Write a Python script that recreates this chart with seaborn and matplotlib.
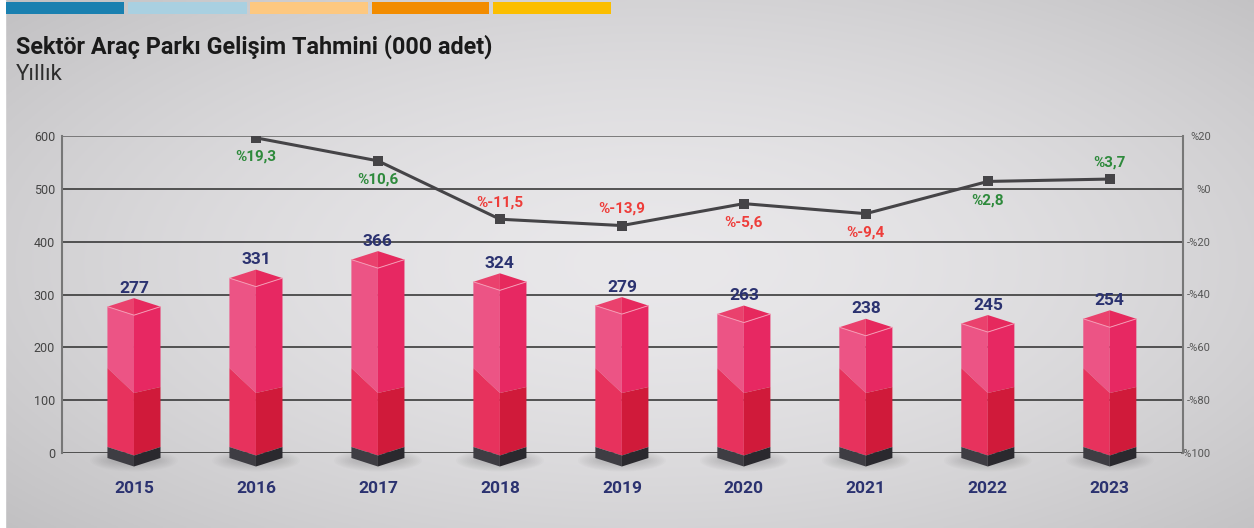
import numpy as np
import pandas as pd
import seaborn as sns
import matplotlib.pyplot as plt
from matplotlib.patches import Polygon, Ellipse, Rectangle

# ---------------- data ----------------
years = ['2015', '2016', '2017', '2018', '2019', '2020', '2021', '2022', '2023']
fleet = [277, 331, 366, 324, 279, 263, 238, 245, 254]
growth_years = ['2016', '2017', '2018', '2019', '2020', '2021', '2022', '2023']
growth = [19.3, 10.6, -11.5, -13.9, -5.6, -9.4, 2.8, 3.7]
label_side = ['below', 'below', 'above', 'above', 'below', 'below', 'below', 'above']

W, H = 1254, 528
sns.set_theme(style='white')
plt.rcParams['font.family'] = ['Roboto', 'DejaVu Sans']

fig = plt.figure(figsize=(W / 100, H / 100), dpi=100)

# ---------------- background gradient ----------------
bg = fig.add_axes([0, 0, 1, 1], zorder=-10)
yy, xx = np.mgrid[0:1:200j, 0:1:400j]
r = np.sqrt(((xx - 0.52) / 0.7) ** 2 + ((yy - 0.5) / 0.75) ** 2)
shade = np.clip(233 - 40 * r ** 1.6, 192, 235) / 255.0
img = np.dstack([shade, shade * 0.995, shade * 1.005])
bg.imshow(np.clip(img, 0, 1), extent=[0, 1, 0, 1], aspect='auto')
bg.add_patch(Rectangle((0, 0), 5 / W, 1, color='white'))
bg.set_xlim(0, 1)
bg.set_ylim(0, 1)
bg.axis('off')

# top colour strip
strip = [(6, 124, '#1a80b0'), (128, 247, '#a9d0e1'), (250, 368, '#fdc880'),
         (372, 489, '#f28c00'), (493, 611, '#fbbe00')]
for x0, x1, col in strip:
    fig.add_artist(Rectangle((x0 / W, 1 - 14 / H), (x1 - x0) / W, 12 / H,
                             transform=fig.transFigure, color=col, lw=0))

# ---------------- titles ----------------
fig.text(16 / W, 1 - 54 / H, 'Sektör Araç Parkı Gelişim Tahmini (000 adet)',
         fontsize=16.8, fontweight='bold', color='#1a1a1a')
fig.text(16 / W, 1 - 80 / H, 'Yıllık', fontsize=16, color='#2e2e2e')

# ---------------- bars ----------------
ax = fig.add_axes([62 / W, 1 - 453 / H, (1183 - 62) / W, (453 - 136) / H])
ax.set_facecolor('none')
df = pd.DataFrame({'year': years, 'fleet': fleet})
sns.barplot(data=df, x='year', y='fleet', ax=ax, width=0.435,
            color='#ec5283', saturation=1, zorder=2)

ax.set_ylim(0, 600)
ax.set_xlim(-0.59, 8.6)
upp = 600 / 317.0          # data units per pixel
d = 8.5 * upp              # iso depth
b = 6 * upp                # top of the dark base at corners
bh = 11 * upp              # height of the dark base
s_l, s_c, s_r = 85 * upp, 60 * upp, 66 * upp   # shading split heights

for p in list(ax.patches):
    L = p.get_x()
    R = L + p.get_width()
    c = (L + R) / 2
    v = p.get_height()
    faces = [
        ([(L, v), (c, v - d), (c, s_c), (L, s_l)], '#ec5485'),
        ([(L, s_l), (c, s_c), (c, b - d), (L, b)], '#e7325d'),
        ([(c, v - d), (R, v), (R, s_r), (c, s_c)], '#e72862'),
        ([(c, s_c), (R, s_r), (R, b), (c, b - d)], '#d01a3a'),
        ([(L, v), (c, v + d), (c, v - d)], '#ea416d'),
        ([(c, v + d), (R, v), (c, v - d)], '#e6295d'),
        ([(L, b), (c, b - d), (c, b - d - bh), (L, b - bh)], '#3e3d43'),
        ([(c, b - d), (R, b), (R, b - bh), (c, b - d - bh)], '#2a292e'),
    ]
    for k in range(10):
        ax.add_patch(Ellipse((c, b - d - bh + 6 * upp), 0.72 - 0.035 * k,
                             (22 - 1.6 * k) * upp, color='#555555', alpha=0.025,
                             lw=0, zorder=1.5, clip_on=False))
    for pts, col in faces:
        ax.add_patch(Polygon(pts, closed=True, color=col, lw=0, zorder=3,
                             clip_on=False))
    ax.plot([L, c, R], [v, v - d, v], color='#f59ab4', lw=0.7, zorder=3.5,
            clip_on=False)
    ax.text(c, v + d + 10, str(int(round(v))), ha='center', va='baseline',
            fontsize=12.5, fontweight='bold', color='#2b3270', zorder=4)
    p.set_visible(False)

for yv in range(0, 601, 100):
    ax.axhline(yv, color='#3a3a3a' if yv < 600 else '#6a6a6a', lw=1.2, zorder=1)

ax.set_yticks(range(0, 601, 100))
ax.set_xticks(range(len(years)))
ax.set_xticklabels(years)
ax.set_xlabel('')
ax.set_ylabel('')
ax.tick_params(axis='y', length=0, pad=5, labelsize=9, labelcolor='#444444')
ax.tick_params(axis='x', length=0, pad=20, labelsize=12.5, labelcolor='#2b3270')
for lbl in ax.get_xticklabels():
    lbl.set_fontweight('bold')
for side in ['top', 'bottom', 'right']:
    ax.spines[side].set_visible(False)
ax.spines['left'].set_color('#777777')
ax.spines['left'].set_linewidth(1.5)

# ---------------- growth line ----------------
ax2 = ax.twinx()
ax2.set_facecolor('none')
gx = [years.index(y) for y in growth_years]
gdf = pd.DataFrame({'x': gx, 'growth': growth})
sns.lineplot(data=gdf, x='x', y='growth', ax=ax2, color='#454447', lw=2.2,
             marker='s', markersize=7.5, markeredgewidth=0, zorder=5)
ax2.set_ylim(-100, 20)
ax2.set_xlim(-0.59, 8.6)
ticks = list(range(-100, 21, 20))
ax2.set_yticks(ticks)
ax2.set_yticklabels([f'%{t}' if t >= 0 else f'-%{-t}' for t in ticks])
ax2.tick_params(axis='y', length=0, pad=20, labelsize=8, labelcolor='#555555')
for lbl in ax2.get_yticklabels():
    lbl.set_horizontalalignment('right')
ax2.set_xlabel('')
ax2.set_ylabel('')
for side in ['top', 'bottom', 'left']:
    ax2.spines[side].set_visible(False)
ax2.spines['right'].set_color('#777777')
ax2.spines['right'].set_linewidth(1.5)

for x, g, side in zip(gx, growth, label_side):
    col = '#2e8a3c' if g > 0 else '#ee3d3a'
    off = -13.5 if side == 'below' else 12
    ax2.annotate(f'%{g:.1f}'.replace('.', ','), (x, g), xytext=(0, off),
                 textcoords='offset points', ha='center', va='center',
                 fontsize=11, fontweight='bold', color=col, zorder=6)

fig.savefig('out.png', dpi=100)
